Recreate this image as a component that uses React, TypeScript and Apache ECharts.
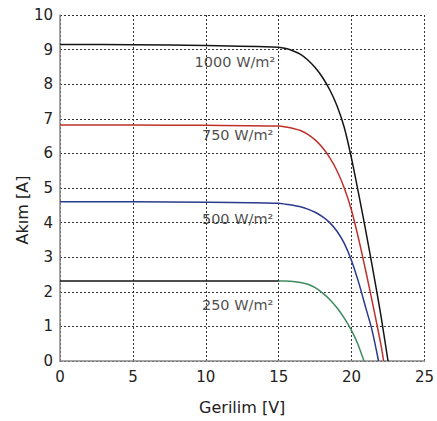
import React, { useEffect, useRef } from "react";
import * as echarts from "echarts";

const xTicks = [0, 5, 10, 15, 20, 25];
const yMax = 10;

const v1000 = [0, 5, 10, 15, 15.5, 16, 16.5, 17, 17.5, 18, 18.5, 19, 19.5, 20, 20.5, 21, 21.5, 22, 22.5];
const i1000 = [9.15, 9.14, 9.12, 9.07, 9.03, 8.96, 8.86, 8.7, 8.48, 8.2, 7.84, 7.38, 6.75, 5.85, 4.8, 3.7, 2.55, 1.35, 0];

const v750 = [0, 5, 10, 15, 15.5, 16, 16.5, 17, 17.5, 18, 18.5, 19, 19.5, 20, 20.5, 21, 21.5, 22, 22.2];
const i750 = [6.82, 6.82, 6.81, 6.79, 6.76, 6.72, 6.66, 6.55, 6.39, 6.17, 5.88, 5.5, 5.0, 4.35, 3.5, 2.55, 1.55, 0.5, 0];

const v500 = [0, 5, 10, 15, 15.5, 16, 16.5, 17, 17.5, 18, 18.5, 19, 19.5, 20, 20.5, 21, 21.4, 21.85];
const i500 = [4.6, 4.6, 4.59, 4.56, 4.53, 4.5, 4.46, 4.39, 4.3, 4.17, 4.0, 3.75, 3.4, 2.9, 2.25, 1.5, 0.9, 0];

const v250 = [0, 5, 10, 15, 15.5, 16, 16.5, 17, 17.5, 18, 18.5, 19, 19.5, 20, 20.4, 20.85];
const i250 = [2.31, 2.31, 2.31, 2.31, 2.31, 2.3, 2.27, 2.22, 2.12, 1.97, 1.78, 1.54, 1.24, 0.88, 0.52, 0];

const curveLabels = ["1000 W/m²", "750 W/m²", "500 W/m²", "250 W/m²"];
const labelV = [9.2, 9.7, 9.7, 9.7];
const labelI = [8.64, 6.53, 4.1, 1.62];

const xName = "Gerilim [V]";
const yName = "Akım [A]";

const zip = (v: number[], i: number[]) => v.map((x, k) => [x, i[k]]);

export default function App() {
  const ref = useRef<HTMLDivElement>(null);
  useEffect(() => {
    document.body.style.margin = "0";
    const chart = echarts.init(ref.current!, null, { renderer: "svg" });
    const font = "DejaVu Sans";
    const lineSeries = (data: number[][], color: string) => ({
      type: "line",
      data,
      showSymbol: false,
      smooth: 0.3,
      lineStyle: { color, width: 1.5 },
      z: 3,
    });
    const d250 = zip(v250, i250);
    const series: any[] = [
      lineSeries(zip(v1000, i1000), "#151515"),
      lineSeries(zip(v750, i750), "#c0302a"),
      lineSeries(zip(v500, i500), "#2b3a8e"),
      lineSeries(d250.filter((p) => p[0] >= 15), "#3f8a5e"),
      lineSeries(d250.filter((p) => p[0] <= 15), "#151515"),
    ];
    curveLabels.forEach((t, k) => {
      series.push({
        type: "scatter",
        data: [[labelV[k], labelI[k]]],
        symbolSize: 1,
        itemStyle: { color: "rgba(0,0,0,0)" },
        label: {
          show: true,
          position: "right",
          distance: 0,
          formatter: t,
          fontFamily: font,
          fontSize: 14.5,
          color: "#1a1a1a",
        },
        z: 4,
      });
    });
    chart.setOption({
      animation: false,
      grid: { left: 60, top: 15, right: 9, bottom: 60 },
      xAxis: {
        type: "value",
        min: xTicks[0],
        max: xTicks[xTicks.length - 1],
        interval: 5,
        name: xName,
        nameLocation: "middle",
        nameGap: 38,
        nameTextStyle: { fontFamily: font, fontSize: 16, color: "#222" },
        axisLine: { show: true, lineStyle: { color: "#888", width: 1.5 } },
        axisTick: { show: false },
        axisLabel: { fontFamily: font, fontSize: 15, color: "#222", margin: 8 },
        splitLine: { show: true, lineStyle: { color: "#333", type: [2, 2], width: 1 } },
      },
      yAxis: {
        type: "value",
        min: 0,
        max: yMax,
        interval: 1,
        axisLine: { show: true, lineStyle: { color: "#888", width: 1.5 } },
        axisTick: { show: false },
        axisLabel: { fontFamily: font, fontSize: 15, color: "#222", margin: 7 },
        splitLine: { show: true, lineStyle: { color: "#333", type: [2, 2], width: 1 } },
      },
      graphic: [
        {
          type: "text",
          x: 22,
          y: 210,
          rotation: Math.PI / 2,
          style: {
            text: yName,
            font: `16px "${font}"`,
            fill: "#222",
            textAlign: "center",
            textVerticalAlign: "middle",
          },
        },
      ],
      series,
    });
    return () => chart.dispose();
  }, []);
  return <div ref={ref} style={{ width: 437, height: 421 }} />;
}
